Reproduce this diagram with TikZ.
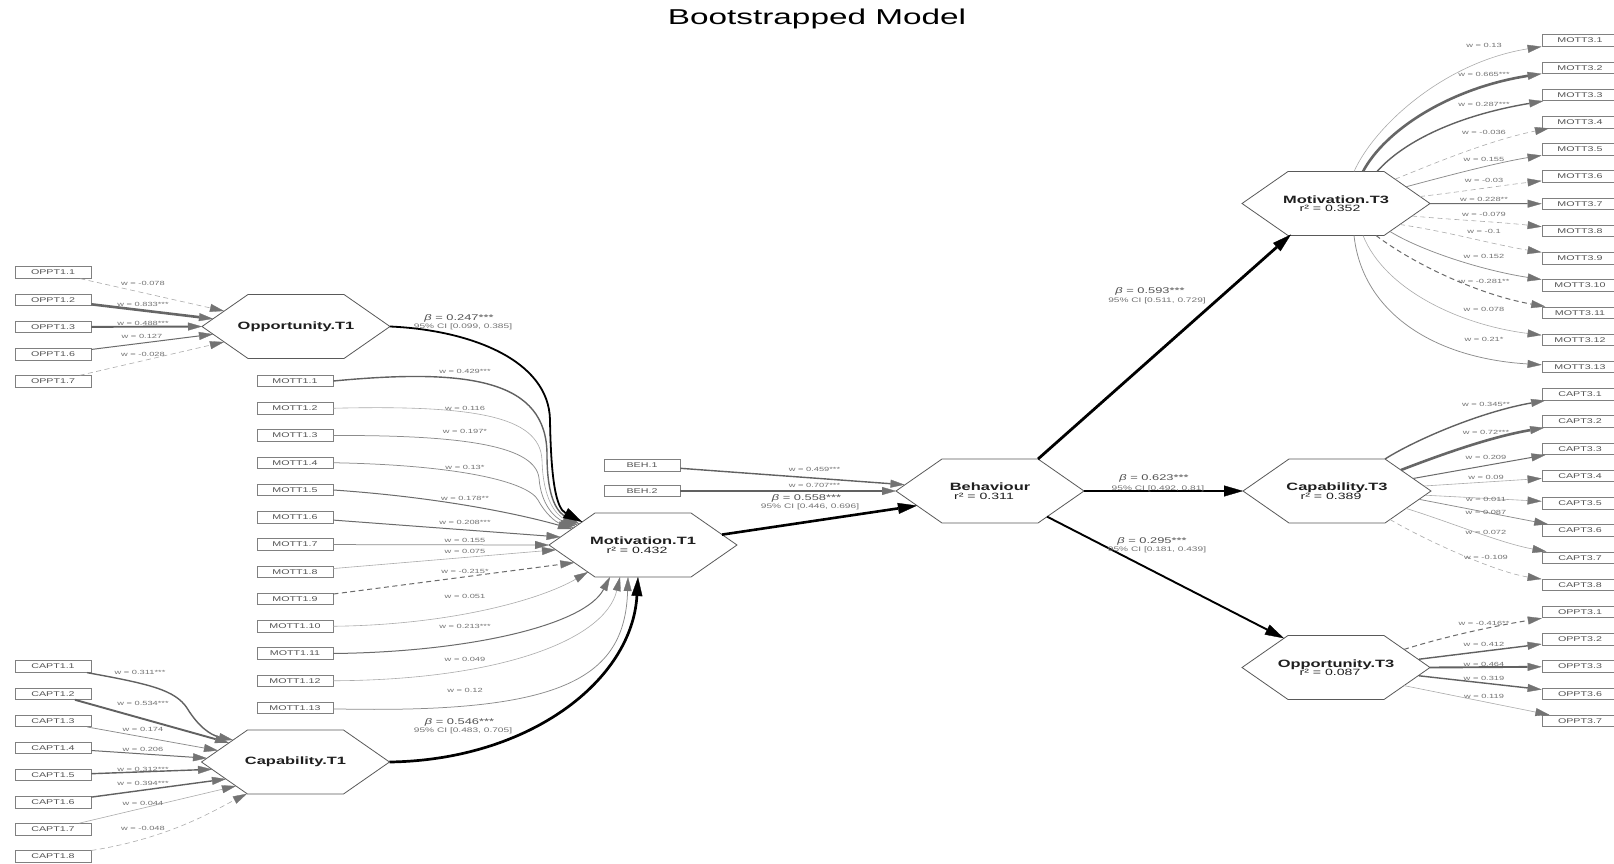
\documentclass[tikz,border=0pt]{standalone}
\usepackage{fontspec}
\setmainfont{Liberation Sans}[FakeStretch=1.55]
\usetikzlibrary{arrows.meta}

\definecolor{boxcol}{gray}{0.5}
\definecolor{boxtxt}{gray}{0.33}
\definecolor{wtxt}{gray}{0.45}
\definecolor{hexcol}{gray}{0.35}
\definecolor{tipcol}{gray}{0.45}

\newcommand\hexfont{\fontsize{10.6}{8.5}\selectfont}
\newcommand\rsq[1]{{\fontsize{9.1}{8.5}\selectfont r² = #1\hspace*{12pt}}}

\tikzset{
  ind/.style={draw=boxcol, line width=0.8pt, fill=white, minimum width=76pt, minimum height=11.5pt,
    inner sep=0pt, text=boxtxt, font=\fontsize{6.9}{7}\selectfont},
  hexnode/.style={minimum width=188pt, minimum height=64pt, inner sep=0pt, align=center, text=black!88,
    font=\hexfont},
  hexline/.style={draw=hexcol, line width=0.8pt},
  wlab/.style={inner sep=0pt, text=wtxt, font=\fontsize{6}{6}\selectfont},
  blab/.style={inner sep=0pt, text=black!68, font=\fontsize{8.3}{8}\selectfont},
  cilab/.style={inner sep=0pt, text=black!55, font=\fontsize{6.55}{6}\selectfont},
  ahead/.style={-{Triangle[length=14pt,width=8pt,line width=0.3pt,color=tipcol,fill=tipcol]}},
  g1/.style={ahead, draw=black!33, line width=0.6pt},
  g2/.style={ahead, draw=black!45, line width=0.75pt},
  g3/.style={ahead, draw=black!58, line width=1pt},
  g4/.style={ahead, draw=black!62, line width=1.4pt},
  g5/.style={ahead, draw=black!62, line width=1.9pt},
  g6/.style={ahead, draw=black!60, line width=2.6pt},
  dsh/.style={dash pattern=on 5pt off 3.5pt},
  betapath/.style={draw=black, line width=#1, -{Triangle[length=19pt,width=11pt,line width=0.3pt]}},
}

% hexagon outline around a construct node (188 x 64)
\newcommand\hexframe[1]{%
  \draw[hexline] ([xshift=-94pt]#1.center) -- ([shift={(-48pt,32pt)}]#1.center)
    -- ([shift={(48pt,32pt)}]#1.center) -- ([xshift=94pt]#1.center)
    -- ([shift={(48pt,-32pt)}]#1.center) -- ([shift={(-48pt,-32pt)}]#1.center) -- cycle;}

\begin{document}
\begin{tikzpicture}[x=1pt,y=-1pt]
\lineskiplimit=-20pt\relax
\useasboundingbox (0,0) rectangle (1614,864);
\fill[white] (0,0) rectangle (1614,864);

\node[anchor=base, font=\fontsize{21.5}{24}\selectfont] (title) at (817,25) {Bootstrapped Model};

% ---------- constructs ----------
\node[hexnode] (oppT1) at (296,326.5) {\textbf{Opportunity.T1}};
\node[hexnode] (capT1) at (295.5,762) {\textbf{Capability.T1}};
\node[hexnode] (motT1) at (643,545) {\textbf{Motivation.T1}\\\rsq{0.432}};
\node[hexnode] (beh) at (990,491) {\textbf{Behaviour}\\\rsq{0.311}};
\node[hexnode] (motT3) at (1336,203.5) {\textbf{Motivation.T3}\\\rsq{0.352}};
\node[hexnode] (capT3) at (1337,491) {\textbf{Capability.T3}\\\rsq{0.389}};
\node[hexnode] (oppT3) at (1336,667.5) {\textbf{Opportunity.T3}\\\rsq{0.087}};
\foreach \h in {oppT1,capT1,motT1,beh,motT3,capT3,oppT3} {\hexframe{\h}}

% ---------- indicators ----------
\foreach \k [count=\i from 0] in {1,2,3,6,7}
  \node[ind] (oT1-\k) at (53,{272.5+27.25*\i}) {OPPT1.\k};
\foreach \k in {1,...,13}
  \node[ind] (mT1-\k) at (295,{381+27.25*(\k-1)}) {MOTT1.\k};
\foreach \k in {1,...,8}
  \node[ind] (cT1-\k) at (53,{666.5+27.15*(\k-1)}) {CAPT1.\k};
\node[ind] (beh1) at (642,465.5) {BEH.1};
\node[ind] (beh2) at (642,491) {BEH.2};
\foreach \k in {1,...,13}
  \node[ind] (mT3-\k) at (1580,{40.5+27.22*(\k-1)}) {MOTT3.\k};
\foreach \k in {1,...,8}
  \node[ind] (cT3-\k) at (1580,{40.5+27.22*(\k+12)}) {CAPT3.\k};
\foreach \k [count=\i from 21] in {1,2,3,6,7}
  \node[ind] (oT3-\k) at (1580,{40.5+27.22*\i}) {OPPT3.\k};

% ---------- Opportunity.T1 indicators ----------
\draw[g1,dsh] (oT1-1) -- ([shift={(-72,-15.5)}]oppT1.center);
\draw[g6] (oT1-2) -- ([shift={(-83,-7.7)}]oppT1.center);
\draw[g5] (oT1-3) -- ([shift={(-94,0)}]oppT1.center);
\draw[g3] (oT1-6) -- ([shift={(-83,7.7)}]oppT1.center);
\draw[g1,dsh] (oT1-7) -- ([shift={(-72,15.5)}]oppT1.center);

% ---------- Motivation.T1 indicators ----------
\draw[g4] (mT1-1.east) .. controls (470,368) and (547,380) .. (547,455)
  .. controls (547,500) and (558,513) .. ([shift={(-63.6,-21.1)}]motT1.center);
\draw[g1] (mT1-2.east) .. controls (470,405) and (540,415) .. (542,460)
  .. controls (543,500) and (556,515) .. ([shift={(-65.5,-19.8)}]motT1.center);
\draw[g2] (mT1-3.east) .. controls (470,435) and (535,447) .. (539,478)
  .. controls (541,505) and (555,518) .. ([shift={(-67.3,-18.6)}]motT1.center);
\draw[g2] (mT1-4.east) .. controls (460,465) and (528,482) .. (538,500)
  .. controls (545,513) and (555,522) .. ([shift={(-69.2,-17.3)}]motT1.center);
\draw[g3] (mT1-5.east) .. controls (450,498) and (530,517) .. ([shift={(-71,-16)}]motT1.center);
\draw[g3] (mT1-6) -- ([shift={(-82.5,-8)}]motT1.center);
\draw[g2] (mT1-7) -- ([shift={(-94,0)}]motT1.center);
\draw[g1] (mT1-8) -- ([shift={(-87,4.8)}]motT1.center);
\draw[g3,dsh] (mT1-9) -- ([shift={(-68.7,17.6)}]motT1.center);
\draw[g1] (mT1-10.east) .. controls (450,625) and (540,600) .. ([shift={(-55,27)}]motT1.center);
\draw[g3] (mT1-11.east) .. controls (470,652) and (585,625) .. ([shift={(-33,32)}]motT1.center);
\draw[g1] (mT1-12.east) .. controls (500,680) and (605,640) .. ([shift={(-23,32)}]motT1.center);
\draw[g2] (mT1-13) .. controls (560,714) and (625,680) .. ([shift={(-15,32)}]motT1.center);

% ---------- Capability.T1 indicators ----------
\draw[g4] (cT1-1) .. controls (150,684) and (175,690) .. (187,708)
  .. controls (198,726) and (210,735) .. ([shift={(-62.5,-22)}]capT1.center);
\draw[g5] (cT1-2) -- ([shift={(-66.5,-19.1)}]capT1.center);
\draw[g2] (cT1-3) -- ([shift={(-77.5,-11.5)}]capT1.center);
\draw[g3] (cT1-4) -- ([shift={(-88.5,-3.8)}]capT1.center);
\draw[g4] (cT1-5) -- ([shift={(-83.5,7.3)}]capT1.center);
\draw[g4] (cT1-6) -- ([shift={(-69.5,17)}]capT1.center);
\draw[g1] (cT1-7) -- ([shift={(-59.5,24)}]capT1.center);
\draw[g1,dsh] (cT1-8) .. controls (170,838) and (215,810) .. ([shift={(-48.5,31.7)}]capT1.center);

% ---------- Behaviour indicators ----------
\draw[g4] (beh1) -- ([shift={(-85.5,-6.3)}]beh.center);
\draw[g5] (beh2) -- ([shift={(-94,0)}]beh.center);

% ---------- structural paths ----------
\draw[betapath=1.8pt] ([shift={(94,0)}]oppT1.center) .. controls (470,330) and (549,360) .. (550,420)
  .. controls (551,480) and (556,508) .. ([shift={(-60.7,-23)}]motT1.center);
\draw[betapath=2.7pt] ([shift={(94,0)}]capT1.center) .. controls (530,760) and (632,680) .. ([shift={(-5,32)}]motT1.center);
\draw[betapath=2.6pt] ([shift={(79,-10.4)}]motT1.center) -- ([shift={(-73,14.6)}]beh.center);
\draw[betapath=2.8pt] ([shift={(48,-32)}]beh.center) -- ([shift={(-45,31)}]motT3.center);
\draw[betapath=2.9pt] ([shift={(94,0)}]beh.center) -- ([shift={(-94,0)}]capT3.center);
\draw[betapath=1.9pt] ([shift={(57,25.6)}]beh.center) -- ([shift={(-52,-29.2)}]oppT3.center);

% ---------- Motivation.T3 indicators ----------
\draw[g1] ([shift={(18,-32)}]motT3.center) .. controls (1375,125) and (1445,62) .. (mT3-1);
\draw[g6] ([shift={(27,-32)}]motT3.center) .. controls (1385,130) and (1450,88) .. (mT3-2);
\draw[g4] ([shift={(41,-32)}]motT3.center) .. controls (1405,140) and (1460,115) .. (mT3-3);
\draw[g1,dsh] ([shift={(59,-24.3)}]motT3.center) .. controls (1430,165) and (1490,140) .. (mT3-4);
\draw[g2] ([shift={(70,-16.7)}]motT3.center) .. controls (1450,175) and (1500,162) .. (mT3-5);
\draw[g1,dsh] ([shift={(84,-7)}]motT3.center) .. controls (1460,192) and (1505,185) .. (mT3-6);
\draw[g3] ([shift={(94,0)}]motT3.center) -- (mT3-7);
\draw[g1,dsh] ([shift={(76,12.5)}]motT3.center) .. controls (1455,220) and (1500,222) .. (mT3-8);
\draw[g1,dsh] ([shift={(64,21)}]motT3.center) .. controls (1450,232) and (1495,245) .. (mT3-9);
\draw[g2] ([shift={(54,28)}]motT3.center) .. controls (1420,250) and (1480,270) .. (mT3-10);
\draw[g3,dsh] ([shift={(40,32)}]motT3.center) .. controls (1415,265) and (1480,295) .. (mT3-11);
\draw[g1] ([shift={(27,32)}]motT3.center) .. controls (1385,290) and (1460,325) .. (mT3-12);
\draw[g2] ([shift={(18,32)}]motT3.center) .. controls (1362,310) and (1430,358) .. (mT3-13);

% ---------- Capability.T3 indicators ----------
\draw[g4] ([shift={(48,-32)}]capT3.center) .. controls (1415,440) and (1480,412) .. (cT3-1);
\draw[g6] ([shift={(64,-21)}]capT3.center) .. controls (1440,455) and (1490,437) .. (cT3-2);
\draw[g3] ([shift={(76,-12.5)}]capT3.center) -- (cT3-3);
\draw[g1] ([shift={(87,-5)}]capT3.center) -- (cT3-4);
\draw[g1] ([shift={(88,4.2)}]capT3.center) -- (cT3-5);
\draw[g2] ([shift={(82,8.3)}]capT3.center) -- (cT3-6);
\draw[g1] ([shift={(69,17.4)}]capT3.center) .. controls (1450,522) and (1500,543) .. (cT3-7);
\draw[g1,dsh] ([shift={(53,28.5)}]capT3.center) .. controls (1425,540) and (1495,572) .. (cT3-8);

% ---------- Opportunity.T3 indicators ----------
\draw[g3,dsh] ([shift={(68,-18.1)}]oppT3.center) .. controls (1450,635) and (1500,625) .. (oT3-1);
\draw[g4] ([shift={(83,-8.3)}]oppT3.center) -- (oT3-2);
\draw[g5] ([shift={(94,0)}]oppT3.center) -- (oT3-3);
\draw[g4] ([shift={(83,8.3)}]oppT3.center) -- (oT3-6);
\draw[g1] ([shift={(68,18.1)}]oppT3.center) -- (oT3-7);

% ---------- weight labels ----------
\node[wlab] (lo1) at (143,283) {w = -0.078};
\node[wlab] (lo2) at (143,304) {w = 0.833***};
\node[wlab] (lo3) at (143,323) {w = 0.488***};
\node[wlab] (lo6) at (142,336) {w = 0.127};
\node[wlab] (lo7) at (143,354) {w = -0.028};

\node[wlab] (lm1) at (465,371) {w = 0.429***};
\node[wlab] (lm2) at (465,408) {w = 0.116};
\node[wlab] (lm3) at (465,431.7) {w = 0.197*};
\node[wlab] (lm4) at (465,467.7) {w = 0.13*};
\node[wlab] (lm5) at (465,498.3) {w = 0.178**};
\node[wlab] (lm6) at (465,522.7) {w = 0.208***};
\node[wlab] (lm7) at (465,540.7) {w = 0.155};
\node[wlab] (lm8) at (465,551.7) {w = 0.075};
\node[wlab] (lm9) at (465,571) {w = -0.215*};
\node[wlab] (lm10) at (465,596.7) {w = 0.051};
\node[wlab] (lm11) at (465,626.7) {w = 0.213***};
\node[wlab] (lm12) at (465,659) {w = 0.049};
\node[wlab] (lm13) at (465,690.7) {w = 0.12};

\node[wlab] (lc1) at (140,672) {w = 0.311***};
\node[wlab] (lc2) at (143,703) {w = 0.534***};
\node[wlab] (lc3) at (143,729) {w = 0.174};
\node[wlab] (lc4) at (143,749) {w = 0.206};
\node[wlab] (lc5) at (143,769) {w = 0.312***};
\node[wlab] (lc6) at (143,783) {w = 0.394***};
\node[wlab] (lc7) at (143,803) {w = 0.044};
\node[wlab] (lc8) at (143,828) {w = -0.048};

\node[wlab] (lb1) at (814.5,469) {w = 0.459***};
\node[wlab] (lb2) at (814.5,485.3) {w = 0.707***};

\node[wlab] (ln1) at (1484,45) {w = 0.13};
\node[wlab] (ln2) at (1484,74) {w = 0.665***};
\node[wlab] (ln3) at (1484,104) {w = 0.287***};
\node[wlab] (ln4) at (1484,132) {w = -0.036};
\node[wlab] (ln5) at (1484,159) {w = 0.155};
\node[wlab] (ln6) at (1484,180) {w = -0.03};
\node[wlab] (ln7) at (1484,199) {w = 0.228**};
\node[wlab] (ln8) at (1484,214) {w = -0.079};
\node[wlab] (ln9) at (1484,231) {w = -0.1};
\node[wlab] (ln10) at (1484,256) {w = 0.152};
\node[wlab] (ln11) at (1484,281) {w = -0.281**};
\node[wlab] (ln12) at (1484,309) {w = 0.078};
\node[wlab] (ln13) at (1484,339) {w = 0.21*};

\node[wlab] (lk1) at (1486,404) {w = 0.345**};
\node[wlab] (lk2) at (1486,432) {w = 0.72***};
\node[wlab] (lk3) at (1486,457) {w = 0.209};
\node[wlab] (lk4) at (1486,477) {w = 0.09};
\node[wlab] (lk5) at (1486,499) {w = 0.011};
\node[wlab] (lk6) at (1486,512) {w = 0.087};
\node[wlab] (lk7) at (1486,532) {w = 0.072};
\node[wlab] (lk8) at (1486,557) {w = -0.109};

\node[wlab] (lq1) at (1484,623) {w = -0.416**};
\node[wlab] (lq2) at (1484,644) {w = 0.412};
\node[wlab] (lq3) at (1484,664) {w = 0.464};
\node[wlab] (lq6) at (1484,678) {w = 0.319};
\node[wlab] (lq7) at (1484,696) {w = 0.119};

% ---------- path coefficients ----------
\node[blab] (bo) at (459,318.5) {\textit{β} = 0.247***};
\node[cilab] (co) at (463,327.3) {95\% CI [0.099, 0.385]};
\node[blab] (bc) at (459.5,722.7) {\textit{β} = 0.546***};
\node[cilab] (cc) at (463,731) {95\% CI [0.483, 0.705]};
\node[blab] (bm) at (806.5,498.3) {\textit{β} = 0.558***};
\node[cilab] (cm) at (810,507.3) {95\% CI [0.446, 0.696]};
\node[blab] (b3m) at (1150,291.7) {\textit{β} = 0.593***};
\node[cilab] (c3m) at (1157,301) {95\% CI [0.511, 0.729]};
\node[blab] (b3c) at (1154,478.3) {\textit{β} = 0.623***};
\node[cilab] (c3c) at (1158,489) {95\% CI [0.492, 0.81]};
\node[blab] (b3o) at (1152,541.7) {\textit{β} = 0.295***};
\node[cilab] (c3o) at (1157,550) {95\% CI [0.181, 0.439]};
\end{tikzpicture}
\end{document}
